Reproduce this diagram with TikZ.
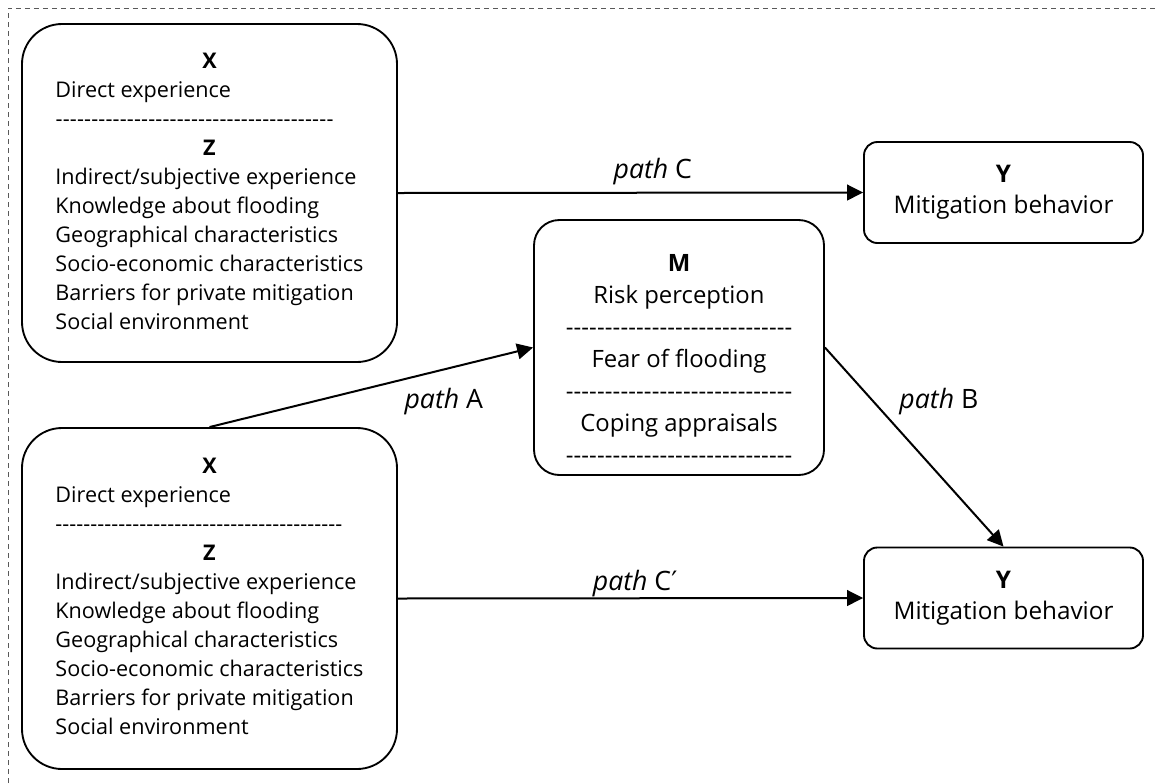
\documentclass[tikz,border=0pt]{standalone}
\usepackage{fontspec}
\setmainfont{Open Sans}
\newfontfamily\primefont{DejaVu Sans}
\usetikzlibrary{arrows.meta}
\def\dashrow#1{\hbox to #1{\xleaders\hbox{-}\hfil}}
\def\xzlist#1{\begin{tabular}{@{}l@{}}
	\multicolumn{1}{@{}c@{}}{\textbf{X}}\\
	Direct experience\\
	\dashrow{#1}\\
	\multicolumn{1}{@{}c@{}}{\textbf{Z}}\\
	Indirect/subjective experience\\
	Knowledge about flooding\\
	Geographical characteristics\\
	Socio-economic characteristics\\
	Barriers for private mitigation\\
	Social environment
\end{tabular}}
\tikzset{
	bigbox/.style={draw, line width=1.4pt, rounded corners=30pt, minimum width=281.25pt, inner sep=0pt, font=\fontsize{16.2}{21.75}\selectfont},
	midbox/.style={draw, line width=1.4pt, rounded corners=19pt, minimum width=217.5pt, minimum height=191.25pt, inner sep=0pt},
	midtext/.style={inner sep=0pt, font=\fontsize{17.9}{24}\selectfont},
	ybox/.style={draw, line width=1.4pt, rounded corners=10pt, minimum width=209.25pt, minimum height=75.75pt, inner sep=0pt, align=center, font=\fontsize{18.2}{23.25}\selectfont},
	link/.style={-{Triangle[length=12pt,width=11.8pt]}, line width=1.5pt},
	pathlabel/.style={inner sep=2pt, font=\fontsize{20}{24}\selectfont},
	frame/.style={line width=0.75pt, color=black!65, dash pattern=on 4pt off 2.75pt}
}
\begin{document}
\begin{tikzpicture}[x=0.75pt, y=-0.75pt]
			%%%%% START %%%%%
			\useasboundingbox (0,0) rectangle (1158,783);
			\draw[frame] (8,783) -- (8,8) -- (1158,8);
			
			% boxes
			\node[bigbox, minimum height=253.5pt] (X1) at (209.5,193) {\xzlist{208.5pt}};
			\node[bigbox, minimum height=255.75pt] (X2) at (209.5,598.5) {\xzlist{215pt}};
			\node[midbox] (M) at (679,347.5) {};
			\node[midtext] (Mtext) at (679,361) {\begin{tabular}{@{}c@{}}
				\textbf{M}\\
				Risk perception\\
				\dashrow{170pt}\\
				Fear of flooding\\
				\dashrow{170pt}\\
				Coping appraisals\\
				\dashrow{170pt}
			\end{tabular}};
			\node[ybox] (Y1) at (1003.5,192.5) {\textbf{Y}\\Mitigation behavior};
			\node[ybox] (Y2) at (1003.5,598) {\textbf{Y}\\Mitigation behavior};
			
			% paths
			\draw[link] (X1.east) -- node[pathlabel, above=3pt, pos=0.548] {\textit{path} C} (Y1.west);
			\draw[link] (X2.east) -- node[pathlabel, above=-1.5pt, pos=0.51] {\textit{path} C{\primefont ′}} (Y2.west);
			\draw[link] (X2.north) -- node[pathlabel, below=11pt, pos=0.724] {\textit{path} A} (M.west);
			\draw[link] (M.east) -- node[pathlabel, right=17pt, pos=0.27] {\textit{path} B} (Y2.north);
			%%%%% END %%%%%
\end{tikzpicture}
\end{document}
